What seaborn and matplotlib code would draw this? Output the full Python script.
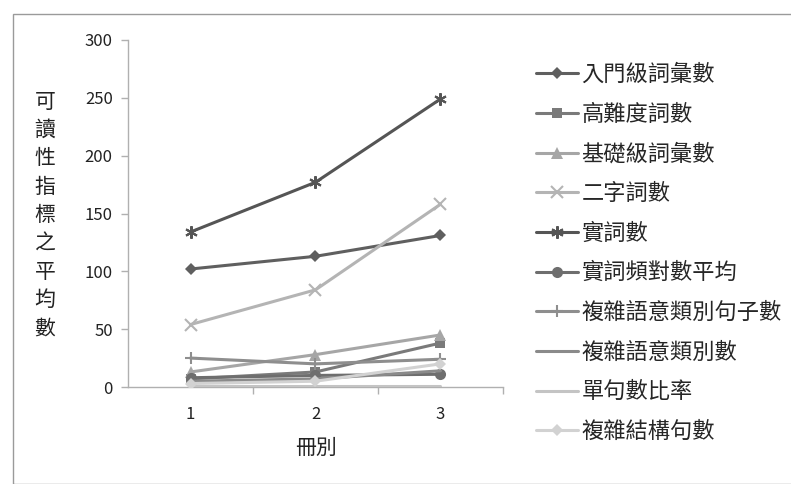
import matplotlib
matplotlib.use("Agg")
import matplotlib.pyplot as plt
import seaborn as sns
import pandas as pd
from matplotlib.patches import Rectangle

books = [1, 2, 3]
series_names = ["入門級詞彙數", "高難度詞數", "基礎級詞彙數", "二字詞數", "實詞數",
                "實詞頻對數平均", "複雜語意類別句子數", "複雜語意類別數", "單句數比率", "複雜結構句數"]
v_intro = [102, 113, 131]
v_hard = [7, 13, 38]
v_basic = [13, 28, 45]
v_twochar = [54, 84, 158]
v_content = [134, 177, 249]
v_logfreq = [8, 10, 11]
v_complex_sent = [25, 20, 24]
v_complex_cat = [5, 7, 14]
v_single_ratio = [1, 1, 1]
v_complex_struct = [3, 5, 20]
values = [v_intro, v_hard, v_basic, v_twochar, v_content,
          v_logfreq, v_complex_sent, v_complex_cat, v_single_ratio, v_complex_struct]
yticks = [0, 50, 100, 150, 200, 250, 300]

colors = ["#5f5f5f", "#7a7a7a", "#a6a6a6", "#b4b4b4", "#555555",
          "#6e6e6e", "#8e8e8e", "#8a8a8a", "#c4c4c4", "#d2d2d2"]
markers = ["D", "s", "^", "x", (6, 2, 0), "o", "+", None, None, "D"]
msizes = [6, 7, 8, 8, 9, 8, 9, 0, 0, 6]

sns.set_theme(style="white")
plt.rcParams['font.family'] = ['Noto Sans CJK TC', 'DejaVu Sans']

fig = plt.figure(figsize=(7.91, 4.84), dpi=100)
ax = fig.add_axes([128/791, 1-387/484, (503-128)/791, (387-40)/484])

for name, vals, c, m, ms in zip(series_names, values, colors, markers, msizes):
    df = pd.DataFrame({"冊別": books, "值": vals})
    kw = dict(marker=m, markersize=ms) if m is not None else {}
    if m in ("x", "+", (6, 2, 0)):
        kw["markeredgewidth"] = 1.5
        kw["markeredgecolor"] = c
    elif m is not None:
        kw["markeredgewidth"] = 0
    sns.lineplot(data=df, x="冊別", y="值", ax=ax, color=c, linewidth=2.2,
                 label=name, **kw)

ax.set_xlim(0.5, 3.5)
ax.set_ylim(0, 300)
ax.set_yticks(yticks)
ax.set_xticks(books)
ax.set_xticklabels([str(b) for b in books])
ax.set_xticks([1.5, 2.5, 3.5], minor=True)
ax.tick_params(axis="x", which="major", length=0, labelsize=12, pad=14, colors="#222222")
ax.tick_params(axis="x", which="minor", length=5, width=1, color="#b0b0b0", direction="out", bottom=True)
ax.tick_params(axis="y", length=5, width=1, color="#b0b0b0", direction="out", labelsize=12,
               pad=6, left=True, colors="#222222")
for s in ["top", "right"]:
    ax.spines[s].set_visible(False)
for s in ["left", "bottom"]:
    ax.spines[s].set_color("#b0b0b0")
    ax.spines[s].set_linewidth(1)
ax.spines["bottom"].set_zorder(0)
ax.set_xlabel("冊別", fontsize=15, labelpad=10, color="#222222")
ax.set_ylabel("")
ax.grid(False)

fig.text(45/791, 1-215/484, "\n".join("可讀性指標之平均數"), fontsize=15,
         ha="center", va="center", linespacing=1.37, color="#222222")

handles, labels = ax.get_legend_handles_labels()
ax.get_legend().remove()
fig.legend(handles, labels, loc="upper left", bbox_to_anchor=(536/791, 1-63/484),
           frameon=False, fontsize=16, handlelength=1.9, handletextpad=0.15,
           labelspacing=0.75, borderaxespad=0, borderpad=0)

fig.patches.append(Rectangle((13/791, 0), 1, 1-14/484, transform=fig.transFigure,
                             fill=False, edgecolor="#9a9a9a", linewidth=1))

fig.savefig("out.png", dpi=100)
